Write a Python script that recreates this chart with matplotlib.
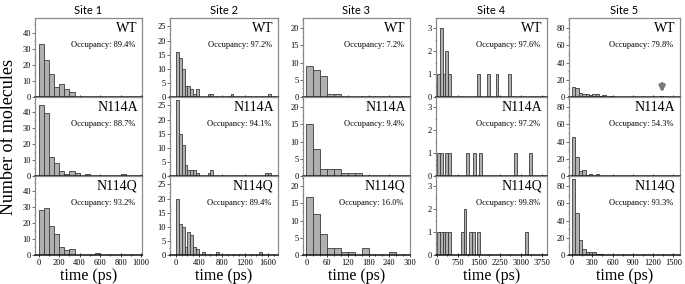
import numpy as np
import matplotlib
matplotlib.use("Agg")
import matplotlib.pyplot as plt
from matplotlib.ticker import MultipleLocator

# ---- data (bin width, counts per bin starting at 0) ----
sites = ["Site 1", "Site 2", "Site 3", "Site 4", "Site 5"]
variants = ["WT", "N114A", "N114Q"]

site1_bin = 50
site1_wt = [33, 23, 14, 6, 8, 5, 3]
site1_n114a = [44, 39, 12, 8, 3, 1, 3, 2, 0, 1, 0, 0, 0, 0, 0, 0, 1]
site1_n114q = [28, 29, 18, 13, 5, 3, 4, 0, 0, 0, 0, 1]
site1_occ = ["89.4%", "88.7%", "93.2%"]

site2_bin = 50
site2_wt = [16, 14, 10, 4, 4, 3, 1, 3, 0, 0, 0, 1, 1, 0, 0, 0, 0, 0, 0, 1,
            0, 0, 0, 0, 0, 0, 0, 0, 0, 0, 0, 0, 1]
site2_n114a = [27, 15, 11, 4, 2, 2, 2, 1, 0, 0, 0, 1, 2, 0, 0, 0, 0, 0, 0, 0,
               0, 0, 0, 0, 0, 0, 0, 0, 0, 0, 0, 1, 1]
site2_n114q = [20, 11, 10, 3, 8, 7, 3, 2, 0, 1, 0, 0, 0, 0, 1, 0, 0, 0, 0, 0,
               0, 0, 0, 0, 0, 0, 0, 0, 0, 1]
site2_occ = ["97.2%", "94.1%", "89.4%"]

site3_bin = 20
site3_wt = [9, 8, 6, 1, 1]
site3_n114a = [15, 8, 2, 2, 2, 1, 1, 1]
site3_n114q = [17, 12, 6, 2, 2, 1, 1, 0, 2, 0, 0, 0, 1]
site3_occ = ["7.2%", "9.4%", "16.0%"]

# site 4 bars are sparse: left edge (ps) and count
site4_bin = 100
site4_wt_t = [0, 100, 200, 300, 400, 1450, 1800, 2100, 2550]
site4_wt_n = [1, 3, 1, 2, 1, 1, 1, 1, 1]
site4_n114a_t = [0, 100, 300, 400, 1050, 1300, 1500, 2750, 3300]
site4_n114a_n = [1, 1, 1, 1, 1, 1, 1, 1, 1]
site4_n114q_t = [0, 100, 200, 300, 400, 850, 950, 1150, 1250, 1450, 3150]
site4_n114q_n = [1, 1, 1, 1, 1, 1, 2, 1, 1, 1, 1]
site4_occ = ["97.6%", "97.2%", "99.8%"]

site5_bin = 50
site5_wt = [12, 10, 5, 3, 3, 2, 4, 3, 1, 2, 0, 1, 0, 0, 0, 0, 0, 0, 0, 0,
            0, 0, 0, 0, 0, 0, 1]
site5_n114a = [45, 22, 6, 7, 1, 2, 0, 2]
site5_n114q = [89, 49, 17, 7, 4, 3, 3, 1, 1]
site5_occ = ["79.8%", "54.3%", "93.3%"]
site5_arrow_t = 1335

# ---- axis settings per site ----
xlims = [(-37, 1010), (-104, 1774), (-10, 300), (-35, 3940), (-45, 1600)]
xmajor = [200, 400, 60, 750, 300]
xminor = [100, 100, 20, 375, 150]
xmax_tick = [1000, 1600, 300, 3750, 1500]
ylims = [(0, 49), (0, 28), (0, 23), (0, 3.45), (0, 92)]
ymajor = [10, 5, 5, 1, 20]
ymaxtick = [40, 25, 20, 3, 80]

W, H = 685, 284
lefts = [35, 170, 303, 436, 569]
widths = [107, 108, 107, 111, 111]
row_top = [18, 97, 176]
row_h = 79

SERIF = "Liberation Serif"
bar_face = "#b0b0b0"
bar_edge = "#3c3c3c"
frame = "#8a8a8a"


def uniform(counts, width):
    c = np.asarray(counts, dtype=float)
    return np.arange(len(c)) * width, c


panels = {
    0: [uniform(site1_wt, site1_bin), uniform(site1_n114a, site1_bin), uniform(site1_n114q, site1_bin)],
    1: [uniform(site2_wt, site2_bin), uniform(site2_n114a, site2_bin), uniform(site2_n114q, site2_bin)],
    2: [uniform(site3_wt, site3_bin), uniform(site3_n114a, site3_bin), uniform(site3_n114q, site3_bin)],
    3: [(np.array(site4_wt_t), np.array(site4_wt_n)),
        (np.array(site4_n114a_t), np.array(site4_n114a_n)),
        (np.array(site4_n114q_t), np.array(site4_n114q_n))],
    4: [uniform(site5_wt, site5_bin), uniform(site5_n114a, site5_bin), uniform(site5_n114q, site5_bin)],
}
bins = [site1_bin, site2_bin, site3_bin, site4_bin, site5_bin]
occs = [site1_occ, site2_occ, site3_occ, site4_occ, site5_occ]

fig = plt.figure(figsize=(W / 100, H / 100), dpi=100)

for c in range(5):
    for r in range(3):
        ax = fig.add_axes([lefts[c] / W, 1 - (row_top[r] + row_h) / H, widths[c] / W, row_h / H])
        x, n = panels[c][r]
        keep = n > 0
        ax.bar(x[keep], n[keep], width=bins[c], align="edge", color=bar_face,
               edgecolor=bar_edge, linewidth=0.6, zorder=2)
        ax.set_xlim(*xlims[c])
        ax.set_ylim(*ylims[c])
        ax.set_xticks(np.arange(0, xmax_tick[c] + 1, xmajor[c]))
        ax.xaxis.set_minor_locator(MultipleLocator(xminor[c]))
        ax.set_yticks(np.arange(0, ymaxtick[c] + 0.1, ymajor[c]))
        ax.yaxis.set_minor_locator(MultipleLocator(ymajor[c] / 2))
        ax.tick_params(axis="x", which="both", direction="inout", length=3, width=0.6,
                       labelsize=6, pad=1.5, color="#222222")
        ax.tick_params(axis="x", which="minor", length=2)
        ax.tick_params(axis="y", which="major", direction="out", length=2, width=0.6,
                       labelsize=6, pad=1, color="#555555")
        ax.tick_params(axis="y", which="minor", direction="out", length=1, width=0.5,
                       color="#555555")
        for lab in ax.get_xticklabels() + ax.get_yticklabels():
            lab.set_fontfamily(SERIF)
        if r < 2:
            ax.tick_params(axis="x", labelbottom=False)
        for side in ["left", "right", "top"]:
            ax.spines[side].set_color(frame)
            ax.spines[side].set_linewidth(0.9)
        ax.spines["bottom"].set_color("#111111")
        ax.spines["bottom"].set_linewidth(1.1)
        ax.spines["bottom"].set_zorder(3)

        ax.text(0.96, 0.87, variants[r], transform=ax.transAxes, ha="right", va="center",
                fontsize=10, family=SERIF)
        ax.text(0.94, 0.66, "Occupancy: " + occs[c][r], transform=ax.transAxes,
                ha="right", va="center", fontsize=6, family=SERIF)

        if r == 0:
            ax.set_title(sites[c], fontsize=8, family="Lato", pad=3)
            if c == 4:
                ax.annotate("", xy=(site5_arrow_t, 2), xytext=(site5_arrow_t, 19),
                            arrowprops=dict(arrowstyle="-|>", color="#7a7a7a", lw=2.2,
                                            mutation_scale=8))
        if r == 2:
            ax.set_xlabel("time (ps)", fontsize=11.5, family=SERIF, labelpad=0.5)

fig.text(9 / W, 1 - 137 / H, "Number of molecules", rotation=90, ha="center", va="center",
         fontsize=13, family=SERIF)

fig.savefig("out.png", dpi=100)
